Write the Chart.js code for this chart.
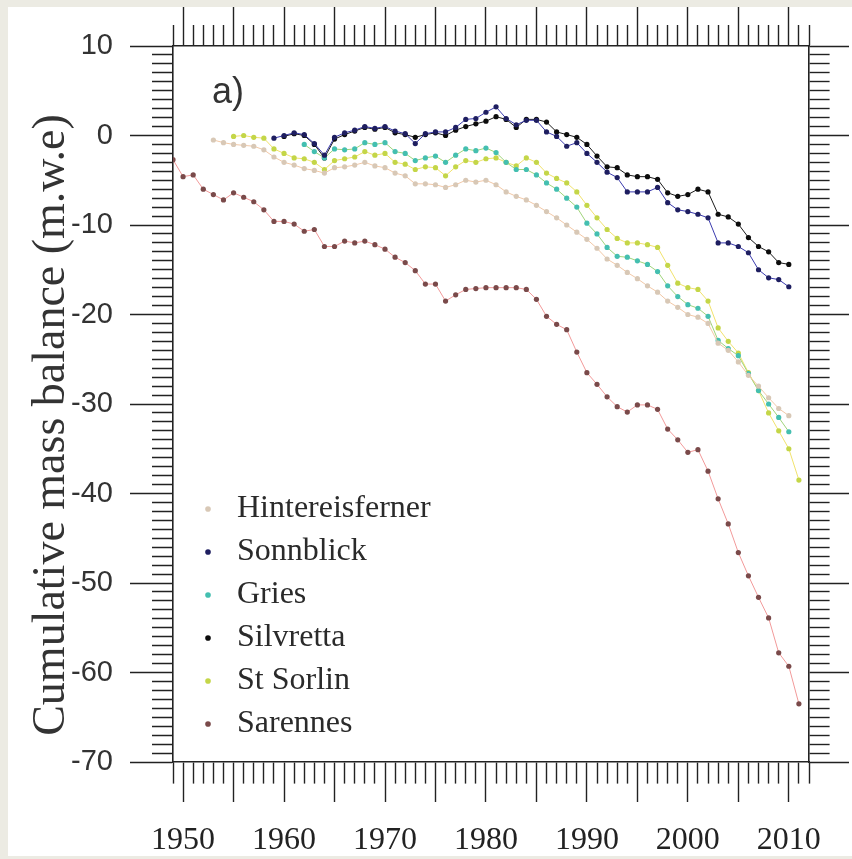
<!DOCTYPE html>
<html>
<head>
<meta charset="utf-8">
<script src="https://cdn.jsdelivr.net/npm/chart.js@4/dist/chart.umd.min.js"></script>
<style>
  body { margin: 0; background: #ecebe3; }
  #paper { position: absolute; left: 8px; top: 7px; width: 844px; height: 849px; background: #fff; }
  #myChart { position: absolute; left: 0; top: 0; }
  #panel { position: absolute; left: 212px; top: 70px; font: 36px "Liberation Sans", Arial, sans-serif; color: #333; }
  #ytitle { position: absolute; left: -300px; top: 397px; width: 700px; height: 56px; line-height: 56px; text-align: center;
            transform: rotate(-90deg); font: 46px "Liberation Serif", serif; color: #333; white-space: nowrap; }
</style>
</head>
<body>
<div id="paper"></div>
<canvas id="myChart" width="852" height="859"></canvas>
<div id="panel">a)</div>
<div id="ytitle">Cumulative mass balance (m.w.e)</div>
<script>
// cumulative mass balance (m w.e.), one value per year from the start year
const hintereisStart = 1953;
const hintereis = [-0.5, -0.8, -1.0, -1.1, -1.2, -1.6, -2.4, -3.0, -3.3, -3.7, -3.9, -4.2, -3.6, -3.5, -3.3, -3.0, -3.4, -3.6, -4.2, -4.5,
  -5.4, -5.4, -5.5, -5.8, -5.5, -5.0, -5.2, -5.0, -5.5, -6.3, -6.8, -7.2, -7.8, -8.5, -9.2, -10.0, -10.8, -11.6, -12.6, -13.8,
  -14.5, -15.3, -16.0, -16.8, -17.5, -18.5, -19.2, -20.0, -20.3, -21.0, -23.2, -24.0, -25.3, -26.8, -28.0, -29.3, -30.5, -31.3];

const sonnblickStart = 1959;
const sonnblick = [-0.3, 0.0, 0.3, 0.1, -0.9, -2.2, -0.2, 0.3, 0.6, 1.0, 0.8, 1.0, 0.5, 0.2, -0.9, 0.2, 0.4, 0.4, 0.9, 1.8,
  1.9, 2.6, 3.2, 1.9, 1.2, 1.7, 1.7, 0.4, -0.1, -1.2, -0.8, -2.0, -3.0, -4.1, -4.7, -6.3, -6.3, -6.3, -5.8, -7.5,
  -8.3, -8.5, -8.8, -9.2, -12.0, -12.0, -12.4, -13.1, -15.0, -15.9, -16.1, -16.9];

const griesStart = 1962;
const gries = [-1.0, -1.8, -2.5, -1.5, -1.6, -1.5, -0.8, -1.0, -0.8, -1.8, -2.0, -2.8, -2.5, -2.3, -3.0, -2.2, -1.5, -1.7, -1.4, -1.9,
  -3.0, -3.8, -3.8, -4.4, -5.3, -6.0, -7.0, -8.0, -9.8, -11.0, -12.5, -13.5, -13.6, -14.0, -14.4, -15.2, -16.8, -18.0, -18.9, -19.3,
  -20.2, -22.9, -23.8, -24.6, -26.6, -28.5, -30.0, -31.5, -33.1];

const silvrettaStart = 1960;
const silvretta = [-0.1, 0.2, 0.0, -1.0, -2.5, -0.4, 0.1, 0.5, 0.9, 0.7, 0.9, 0.3, 0.1, -0.2, 0.1, 0.3, 0.0, 0.6, 1.0, 1.3,
  1.6, 2.1, 1.8, 0.9, 1.8, 1.8, 1.5, 0.4, 0.1, -0.2, -1.0, -2.3, -3.5, -3.6, -4.4, -4.6, -4.6, -4.9, -6.4, -6.8,
  -6.6, -6.0, -6.3, -8.8, -9.1, -9.9, -11.4, -12.4, -13.0, -14.2, -14.4];

const stSorlinStart = 1955;
const stSorlin = [-0.1, 0.0, -0.2, -0.3, -1.5, -2.0, -2.5, -2.6, -3.0, -3.8, -2.8, -2.6, -2.4, -1.8, -2.2, -2.0, -3.0, -3.2, -3.8, -3.5,
  -3.6, -4.5, -3.5, -2.8, -3.0, -2.6, -2.5, -3.0, -3.4, -2.5, -3.0, -4.2, -4.8, -5.3, -6.3, -7.8, -9.2, -10.5, -11.5, -12.0,
  -12.0, -12.2, -12.5, -14.5, -16.5, -17.0, -17.2, -18.5, -21.5, -23.0, -24.3, -26.5, -28.5, -31.0, -33.0, -35.0, -38.5];

const sarennesStart = 1949;
const sarennes = [-2.7, -4.6, -4.4, -6.0, -6.6, -7.2, -6.4, -6.9, -7.4, -8.3, -9.6, -9.6, -9.9, -10.7, -10.5, -12.4, -12.4, -11.8, -12.0, -11.8,
  -12.2, -12.7, -13.6, -14.2, -15.1, -16.6, -16.6, -18.5, -17.8, -17.2, -17.1, -17.0, -17.0, -17.0, -17.0, -17.2, -18.3, -20.2, -21.1, -21.7,
  -24.2, -26.5, -27.8, -29.2, -30.3, -30.9, -30.1, -30.1, -30.6, -32.8, -34.0, -35.4, -35.1, -37.5, -40.6, -43.4, -46.6, -49.2, -51.6, -53.9,
  -57.8, -59.3, -63.5];

const yearMin = 1949, yearMax = 2012;
const valueMin = -70, valueMax = 10;

function pts(start, vals) {
  return vals.map((v, i) => ({ x: start + i, y: v }));
}

function serie(label, start, vals, line, dot) {
  return {
    label: label,
    data: pts(start, vals),
    borderColor: line,
    backgroundColor: dot,
    borderWidth: 1,
    pointRadius: 2.6,
    pointBorderWidth: 0,
    pointBackgroundColor: dot,
    tension: 0
  };
}

const tickCol = '#222';
function isMajorX(v) { return Math.round(v) % 5 === 0; }
function isMajorY(v) { return Math.round(v) % 10 === 0; }
// long ticks keep the full length, short ones are cut with a dash
function shortTick(isMajor, minor, full, fromAxis) {
  return function(c) {
    if (!c.tick || isMajor(c.tick.value)) return [];
    return fromAxis ? [minor, 200] : [0, full - minor, minor, 200];
  };
}

const ctx = document.getElementById('myChart');

const legendNudge = {
  id: 'legendNudge',
  afterLayout(chart) {
    const l = chart.legend;
    l.left += 11; l.right += 11;
    l.top += 35; l.bottom += 35;
  }
};

new Chart(ctx, {
  type: 'line',
  data: {
    datasets: [
      serie('Hintereisferner', hintereisStart, hintereis, '#f2c8a6', '#d8c8b6'),
      serie('Sonnblick', sonnblickStart, sonnblick, '#3a3aae', '#1e1e60'),
      serie('Gries', griesStart, gries, '#9fd47a', '#44bfb0'),
      serie('Silvretta', silvrettaStart, silvretta, '#1a1a1a', '#0c0c0c'),
      serie('St Sorlin', stSorlinStart, stSorlin, '#f1e26c', '#c4d648'),
      serie('Sarennes', sarennesStart, sarennes, '#f29a9a', '#7a4a4a')
    ]
  },
  options: {
    responsive: false,
    animation: false,
    layout: { padding: 0 },
    plugins: {
      tooltip: { enabled: false },
      legend: {
        position: 'chartArea',
        align: 'end',
        labels: {
          usePointStyle: true,
          pointStyle: 'circle',
          boxWidth: 26,
          boxHeight: 4,
          padding: 11,
          color: '#2a2a2a',
          font: { family: 'Liberation Serif', size: 32 }
        }
      }
    },
    scales: {
      x: {
        type: 'linear', position: 'bottom', min: yearMin, max: yearMax,
        afterFit: s => { s.height = 97; },
        ticks: {
          stepSize: 1, autoSkip: false, maxRotation: 0, padding: 19, color: '#222',
          font: { family: 'Liberation Serif', size: 32 },
          callback: v => (Math.round(v) % 10 === 0 ? String(v) : '')
        },
        grid: { drawOnChartArea: false, tickLength: 40, tickWidth: 1.4, tickColor: tickCol, tickBorderDash: shortTick(isMajorX, 21, 40, true) },
        border: { color: tickCol, width: 1.6 }
      },
      x2: {
        type: 'linear', position: 'top', min: yearMin, max: yearMax,
        afterFit: s => { s.height = 46; },
        ticks: { stepSize: 1, autoSkip: false, display: false },
        grid: { drawOnChartArea: false, tickLength: 39, tickWidth: 1.4, tickColor: tickCol, tickBorderDash: shortTick(isMajorX, 21, 39, false) },
        border: { color: tickCol, width: 1.6 }
      },
      y: {
        type: 'linear', position: 'left', min: valueMin, max: valueMax,
        afterFit: s => { s.width = 173; },
        ticks: {
          stepSize: 1, autoSkip: false, padding: 17, color: '#333',
          font: { family: 'Liberation Sans', size: 29 },
          callback: v => (Math.round(v) % 10 === 0 ? String(v) : '')
        },
        grid: { drawOnChartArea: false, tickLength: 43, tickWidth: 1.4, tickColor: tickCol, tickBorderDash: shortTick(isMajorY, 21, 43, false) },
        border: { color: tickCol, width: 1.6 }
      },
      y2: {
        type: 'linear', position: 'right', min: valueMin, max: valueMax,
        afterFit: s => { s.width = 43; },
        ticks: { stepSize: 1, autoSkip: false, display: false },
        grid: { drawOnChartArea: false, tickLength: 40, tickWidth: 1.4, tickColor: tickCol, tickBorderDash: shortTick(isMajorY, 20, 40, true) },
        border: { color: tickCol, width: 1.6 }
      }
    }
  },
  plugins: [legendNudge]
});
</script>
</body>
</html>
